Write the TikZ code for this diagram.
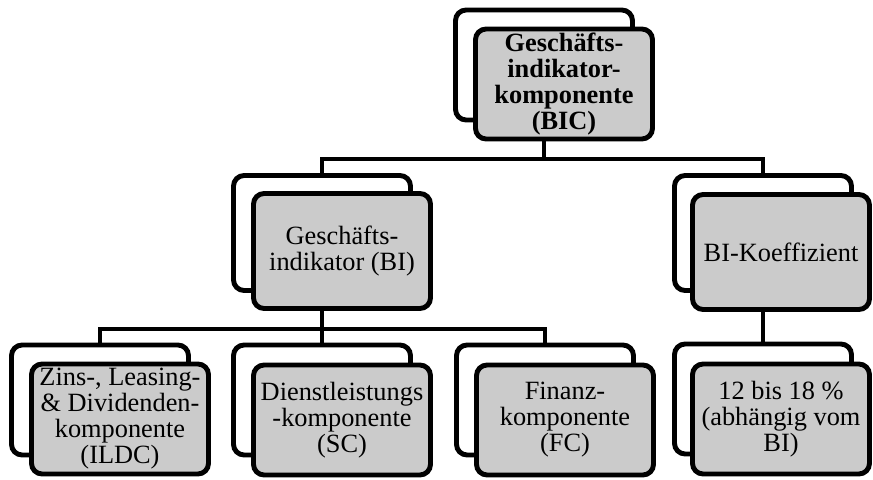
\documentclass[tikz,border=0pt]{standalone}
\usepackage{fontspec}
\setmainfont{Liberation Serif}
\usetikzlibrary{calc}
\definecolor{boxgray}{HTML}{CBCBCB}
\tikzset{backbox/.style={draw, line width=2.8pt, rounded corners=6pt, fill=white,
  minimum width=3.54cm, minimum height=2.2cm},
  frontbox/.style={backbox, fill=boxgray, align=center, inner sep=1pt},
  tallbox/.style={minimum height=2.3cm},
  treeline/.style={line width=2.3pt},
  tree/.style={font=\fontsize{15}{14.8}\selectfont, x=0.02cm, y=-0.02cm}}

\begin{document}
\begin{tikzpicture}[tree]
    \useasboundingbox (0,0) rectangle (873,480);
    % top level
    \node[backbox] (bicB) at (544,65) {};
    \node[frontbox, font=\fontsize{15}{14.8}\selectfont\bfseries] (bic) at ($(bicB)+(20,19)$) {Geschäfts-\\indikator-\\komponente\\(BIC)};
    % second level
    \node[backbox, tallbox] (biB) at (322,233) {};
    \node[frontbox, tallbox] (bi) at ($(biB)+(20,18)$) {Geschäfts-\\indikator (BI)};
    \node[backbox, tallbox] (bkB) at (763,233) {};
    \node[frontbox, tallbox] (bk) at ($(bkB)+(18,19)$) {BI-Koeffizient};
    % third level
    \node[backbox] (ildcB) at (100,400) {};
    \node[frontbox] (ildc) at ($(ildcB)+(20,19)$) {Zins-, Leasing-\\\& Dividenden-\\komponente\\(ILDC)};
    \node[backbox] (scB) at (322,400) {};
    \node[frontbox] (sc) at ($(scB)+(20,20)$) {Dienstleistungs\\-komponente\\(SC)};
    \node[backbox] (fcB) at (545,400) {};
    \node[frontbox] (fc) at ($(fcB)+(20,20)$) {Finanz-\\komponente\\(FC)};
    \node[backbox] (pctB) at (763,399) {};
    \node[frontbox] (pct) at ($(pctB)+(18,20)$) {12 bis 18 \%\\(abhängig vom\\BI)};
    % connectors
    \draw[treeline] (bic.south -| bicB) -- ++(0,18) coordinate (j1) -| (biB.north);
    \draw[treeline] (j1) -| (bkB.north);
    \draw[treeline] (bi.south -| biB) -- ++(0,18) coordinate (j2) -| (ildcB.north);
    \draw[treeline] (j2) -- (scB.north);
    \draw[treeline] (j2) -| (fcB.north);
    \draw[treeline] (bk.south -| bkB) -- (pctB.north);
  \end{tikzpicture}
\end{document}
